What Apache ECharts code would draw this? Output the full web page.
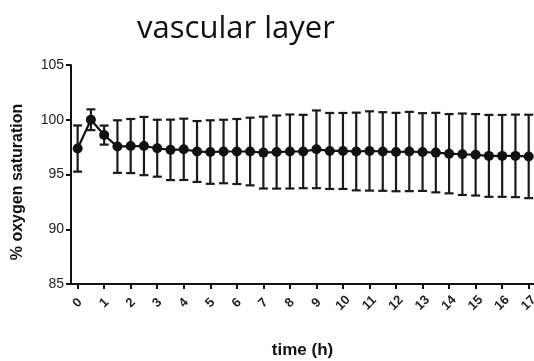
<!DOCTYPE html>
<html>
<head>
<meta charset="utf-8">
<script src="https://cdn.jsdelivr.net/npm/echarts@6/dist/echarts.min.js"></script>
<style>
html,body{margin:0;padding:0;background:#fff;}
#chart{width:534px;height:361px;}
</style>
</head>
<body>
<div id="chart"></div>
<script>
// time points (h)
const times = [0,0.5,1,1.5,2,2.5,3,3.5,4,4.5,5,5.5,6,6.5,7,7.5,8,8.5,9,9.5,10,10.5,11,11.5,12,12.5,13,13.5,14,14.5,15,15.5,16,16.5,17];
// mean % oxygen saturation
const means = [97.37,100.0,98.6,97.55,97.6,97.6,97.4,97.25,97.3,97.1,97.05,97.1,97.1,97.1,97.0,97.05,97.1,97.1,97.3,97.15,97.15,97.1,97.15,97.1,97.05,97.1,97.05,97.0,96.9,96.85,96.8,96.7,96.7,96.7,96.65];
// standard deviation (error bar half-length)
const sds = [2.11,0.95,0.87,2.4,2.47,2.66,2.6,2.76,2.8,2.78,2.9,2.9,2.97,3.09,3.28,3.34,3.38,3.35,3.55,3.47,3.47,3.55,3.62,3.59,3.58,3.62,3.55,3.63,3.62,3.72,3.72,3.74,3.74,3.77,3.81];
// axis tick labels
const xTicks = [0,1,2,3,4,5,6,7,8,9,10,11,12,13,14,15,16,17];
const yTicks = [85,90,95,100,105];

const lineData = times.map((t,i)=>[t,means[i]]);
const errData = times.map((t,i)=>[t,means[i]-sds[i],means[i]+sds[i]]);

const chart = echarts.init(document.getElementById('chart'));
chart.setOption({
  animation:false,
  backgroundColor:'#fff',
  title:{
    text:'vascular layer',
    left:231, top:9, textAlign:'center',
    textStyle:{fontFamily:'Open Sans',fontSize:31,fontWeight:'normal',color:'#111'}
  },
  graphic:[{
    type:'text',
    x:18, y:182, rotation:Math.PI/2,
    style:{text:'% oxygen saturation',fontFamily:'Liberation Sans',fontSize:16,fontWeight:'bold',fill:'#111',align:'center',verticalAlign:'middle'}
  }],
  grid:{left:71,right:0,top:65,bottom:77,containLabel:false,outerBoundsMode:'none'},
  xAxis:{
    type:'value', min:-0.25, max:17.2,
    name:'time (h)', nameLocation:'middle', nameGap:58,
    nameTextStyle:{fontFamily:'Liberation Sans',fontSize:17,fontWeight:'bold',color:'#111'},
    axisLine:{show:true,onZero:false,lineStyle:{color:'#111',width:2}},
    axisTick:{show:true,length:5,lineStyle:{color:'#111',width:2},customValues:xTicks},
    axisLabel:{customValues:xTicks,rotate:45,align:'center',verticalAlign:'middle',margin:19,fontFamily:'Liberation Sans',fontSize:13,fontWeight:'bold',color:'#222'},
    splitLine:{show:false}
  },
  yAxis:{
    type:'value', min:85, max:105, interval:5,
    axisLine:{show:true,onZero:false,lineStyle:{color:'#111',width:2}},
    axisTick:{show:true,length:5,lineStyle:{color:'#111',width:2},customValues:yTicks},
    axisLabel:{customValues:yTicks,margin:7,fontFamily:'Liberation Sans',fontSize:14,color:'#222'},
    splitLine:{show:false}
  },
  series:[
    {
      type:'custom',
      data:errData,
      z:2,
      renderItem:function(params,api){
        const x=api.value(0);
        const lo=api.coord([x,api.value(1)]);
        const hi=api.coord([x,api.value(2)]);
        const w=4.5;
        const st={stroke:'#1a1a1a',lineWidth:2.2};
        return {type:'group',children:[
          {type:'line',shape:{x1:lo[0],y1:lo[1],x2:hi[0],y2:hi[1]},style:st},
          {type:'line',shape:{x1:lo[0]-w,y1:lo[1],x2:lo[0]+w,y2:lo[1]},style:st},
          {type:'line',shape:{x1:hi[0]-w,y1:hi[1],x2:hi[0]+w,y2:hi[1]},style:st}
        ]};
      }
    },
    {
      type:'line',
      data:lineData,
      z:3,
      symbol:'circle',symbolSize:10,
      lineStyle:{color:'#111',width:2.2},
      itemStyle:{color:'#111'}
    }
  ]
});
</script>
</body>
</html>
